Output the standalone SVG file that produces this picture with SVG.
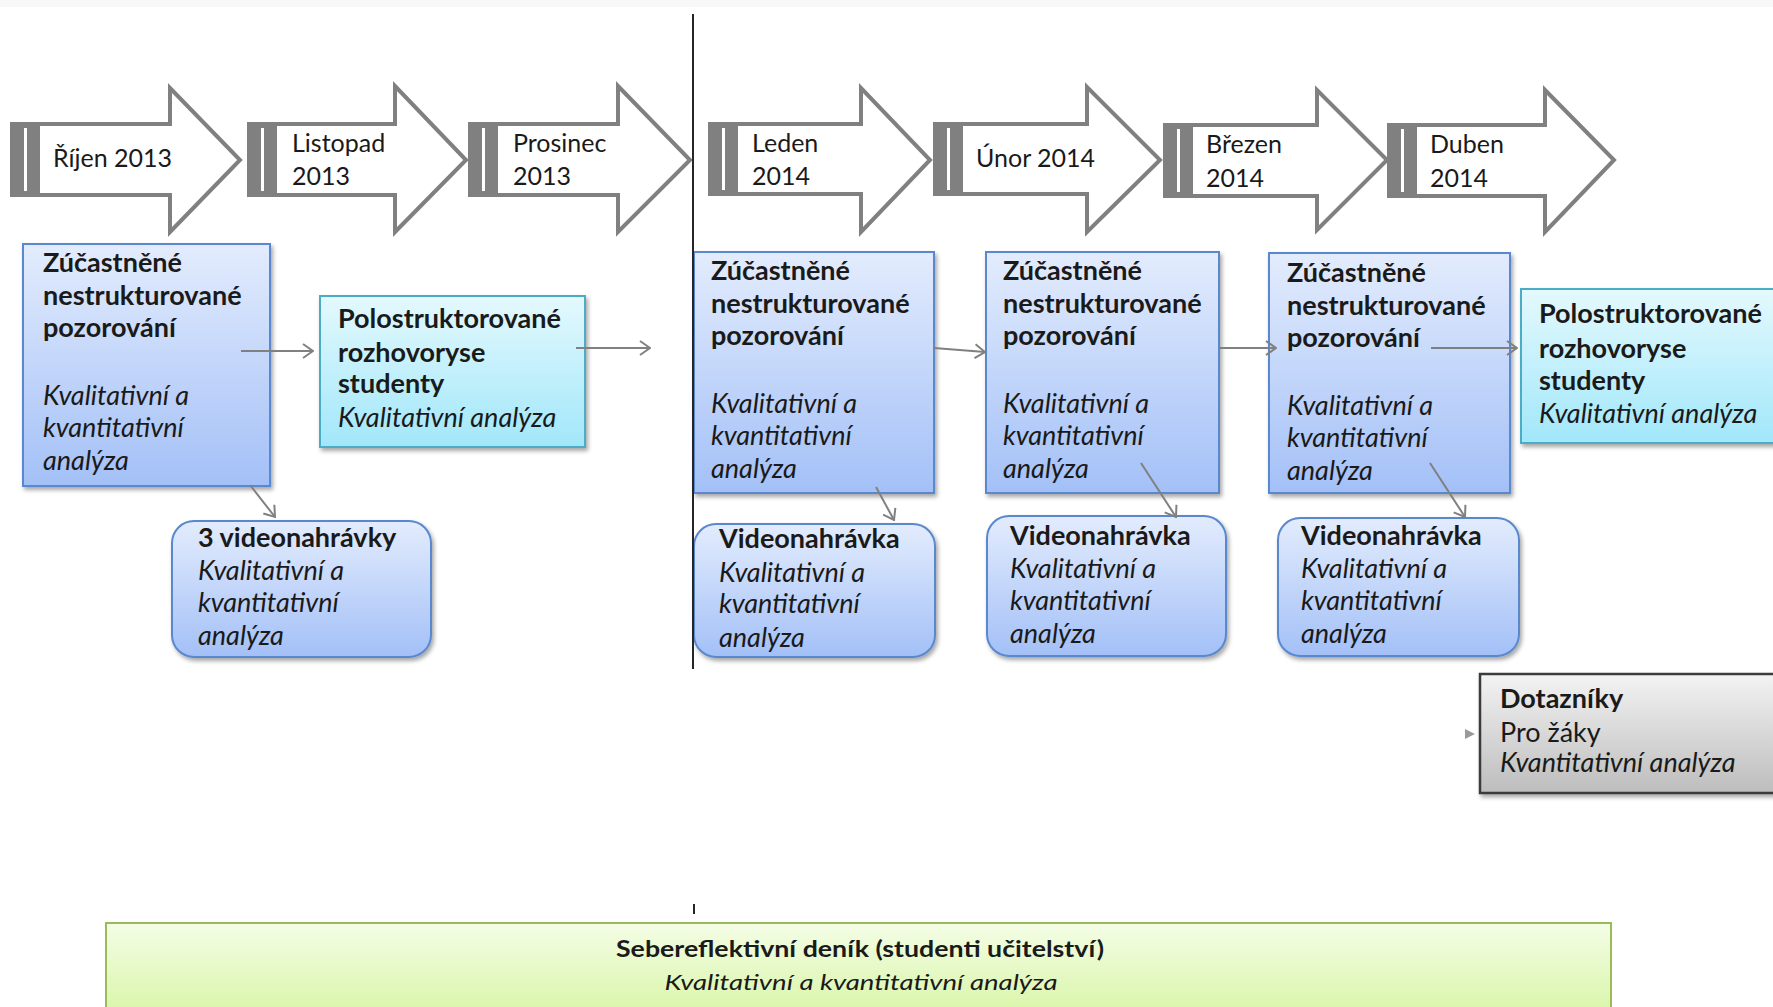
<svg xmlns="http://www.w3.org/2000/svg" width="1773" height="1007" viewBox="0 0 1773 1007">
<defs>
<style>
.t{font-family:Lato,"Open Sans","Liberation Sans",sans-serif;fill:#1a1a1a}
.m{font-size:25px}
.b{font-size:27px;font-weight:bold}
.i{font-size:27px;font-style:italic}
.r{font-size:27px}
.blk{fill:#808080}
.body{fill:#ffffff;stroke:#808080;stroke-width:4;stroke-linejoin:miter}
.stripe{fill:#ffffff}
.blue{fill:url(#gBlue);stroke:#5a88cf;stroke-width:2;filter:url(#sh)}
.cyan{fill:url(#gCyan);stroke:#4bacc6;stroke-width:2;filter:url(#sh)}
.gray{fill:url(#gGray);stroke:#3a3a3a;stroke-width:2.5;filter:url(#sh)}
.green{fill:url(#gGreen);stroke:#9bbb59;stroke-width:2}
.con{stroke:#808080;stroke-width:2;fill:none;marker-end:url(#ah)}
</style>
<linearGradient id="gBlue" x1="0" y1="0" x2="0" y2="1"><stop offset="0" stop-color="#e3ecfd"/><stop offset="1" stop-color="#a3c0f7"/></linearGradient>
<linearGradient id="gCyan" x1="0" y1="0" x2="0" y2="1"><stop offset="0" stop-color="#e4f9fd"/><stop offset="1" stop-color="#a1e7fa"/></linearGradient>
<linearGradient id="gGray" x1="0" y1="0" x2="0" y2="1"><stop offset="0" stop-color="#f3f3f3"/><stop offset="1" stop-color="#bdbdbd"/></linearGradient>
<linearGradient id="gGreen" x1="0" y1="0" x2="0" y2="1"><stop offset="0" stop-color="#f4fde6"/><stop offset="1" stop-color="#d6f5a2"/></linearGradient>
<filter id="sh" x="-10%" y="-10%" width="130%" height="130%"><feDropShadow dx="2" dy="3" stdDeviation="2" flood-color="#000" flood-opacity="0.35"/></filter>
<marker id="ah" viewBox="0 0 12 16" refX="11" refY="8" markerWidth="12" markerHeight="16" markerUnits="userSpaceOnUse" orient="auto"><path d="M1,1 L11,8 L1,15" fill="none" stroke="#808080" stroke-width="2"/></marker>
</defs>
<rect x="0" y="0" width="1773" height="1007" fill="#ffffff"/>
<rect x="0" y="0" width="1773" height="7" fill="#f8f8f8"/>

<g id="month-rijen">
<rect class="blk" x="10" y="122" width="30" height="75"/><rect class="stripe" x="24" y="128" width="3" height="63"/>
<polygon class="body" points="38,124 170,124 170,88 240,160 170,232 170,195 38,195"/>
<text class="t m" x="53" y="167">Říjen 2013</text>
</g>
<g id="month-listopad">
<rect class="blk" x="247" y="122" width="30" height="75"/><rect class="stripe" x="261" y="128" width="3" height="63"/>
<polygon class="body" points="275,124 395,124 395,86 466,160 395,232 395,195 275,195"/>
<text class="t m" x="292" y="152">Listopad</text><text class="t m" x="292" y="185">2013</text>
</g>
<g id="month-prosinec">
<rect class="blk" x="468" y="122" width="30" height="75"/><rect class="stripe" x="482" y="128" width="3" height="63"/>
<polygon class="body" points="496,124 618,124 618,86 690,160 618,232 618,195 496,195"/>
<text class="t m" x="513" y="152">Prosinec</text><text class="t m" x="513" y="185">2013</text>
</g>
<g id="month-leden">
<rect class="blk" x="708" y="122" width="30" height="74"/><rect class="stripe" x="722" y="128" width="3" height="62"/>
<polygon class="body" points="736,124 861,124 861,88 930,160 861,232 861,194 736,194"/>
<text class="t m" x="752" y="152">Leden</text><text class="t m" x="752" y="185">2014</text>
</g>
<g id="month-unor">
<rect class="blk" x="933" y="122" width="30" height="74"/><rect class="stripe" x="947" y="128" width="3" height="62"/>
<polygon class="body" points="961,124 1087,124 1087,87 1160,160 1087,232 1087,194 961,194"/>
<text class="t m" x="976" y="167">Únor 2014</text>
</g>
<g id="month-brezen">
<rect class="blk" x="1163" y="123" width="30" height="75"/><rect class="stripe" x="1177" y="129" width="3" height="63"/>
<polygon class="body" points="1191,125 1317,125 1317,90 1387,160 1317,230 1317,196 1191,196"/>
<text class="t m" x="1206" y="153">Březen</text><text class="t m" x="1206" y="187">2014</text>
</g>
<g id="month-duben">
<rect class="blk" x="1387" y="123" width="30" height="75"/><rect class="stripe" x="1401" y="129" width="3" height="63"/>
<polygon class="body" points="1415,125 1545,125 1545,90 1614,160 1545,232 1545,196 1415,196"/>
<text class="t m" x="1430" y="153">Duben</text><text class="t m" x="1430" y="187">2014</text>
</g>

<g id="obs-rijen">
<rect class="blue" x="23" y="244" width="247" height="242"/>
<text class="t b" x="43" y="272">Zúčastněné</text><text class="t b" x="43" y="305">nestrukturované</text><text class="t b" x="43" y="337">pozorování</text>
<text class="t i" x="43" y="405">Kvalitativní a</text><text class="t i" x="43" y="437">kvantitativní</text><text class="t i" x="43" y="470">analýza</text>
</g>
<g id="interview-1">
<rect class="cyan" x="320" y="296" width="265" height="151"/>
<text class="t b" x="338" y="328">Polostruktorované</text><text class="t b" x="338" y="362">rozhovoryse</text><text class="t b" x="338" y="393">studenty</text>
<text class="t i" x="338" y="427">Kvalitativní analýza</text>
</g>
<g id="video-rijen">
<rect class="blue" x="172" y="521" width="259" height="136" rx="22"/>
<text class="t b" x="198" y="547">3 videonahrávky</text>
<text class="t i" x="198" y="580">Kvalitativní a</text><text class="t i" x="198" y="612">kvantitativní</text><text class="t i" x="198" y="645">analýza</text>
</g>
<g id="obs-leden">
<rect class="blue" x="694" y="252" width="240" height="241"/>
<text class="t b" x="711" y="280">Zúčastněné</text><text class="t b" x="711" y="313">nestrukturované</text><text class="t b" x="711" y="345">pozorování</text>
<text class="t i" x="711" y="413">Kvalitativní a</text><text class="t i" x="711" y="445">kvantitativní</text><text class="t i" x="711" y="478">analýza</text>
</g>
<g id="video-leden">
<rect class="blue" x="694" y="524" width="241" height="133" rx="22"/>
<text class="t b" x="719" y="548">Videonahrávka</text>
<text class="t i" x="719" y="582">Kvalitativní a</text><text class="t i" x="719" y="613">kvantitativní</text><text class="t i" x="719" y="647">analýza</text>
</g>
<g id="obs-unor">
<rect class="blue" x="986" y="252" width="233" height="241"/>
<text class="t b" x="1003" y="280">Zúčastněné</text><text class="t b" x="1003" y="313">nestrukturované</text><text class="t b" x="1003" y="345">pozorování</text>
<text class="t i" x="1003" y="413">Kvalitativní a</text><text class="t i" x="1003" y="445">kvantitativní</text><text class="t i" x="1003" y="478">analýza</text>
</g>
<g id="video-unor">
<rect class="blue" x="987" y="516" width="239" height="140" rx="22"/>
<text class="t b" x="1010" y="545">Videonahrávka</text>
<text class="t i" x="1010" y="578">Kvalitativní a</text><text class="t i" x="1010" y="610">kvantitativní</text><text class="t i" x="1010" y="643">analýza</text>
</g>
<g id="obs-brezen">
<rect class="blue" x="1269" y="253" width="241" height="240"/>
<text class="t b" x="1287" y="282">Zúčastněné</text><text class="t b" x="1287" y="315">nestrukturované</text><text class="t b" x="1287" y="347">pozorování</text>
<text class="t i" x="1287" y="415">Kvalitativní a</text><text class="t i" x="1287" y="447">kvantitativní</text><text class="t i" x="1287" y="480">analýza</text>
</g>
<g id="video-brezen">
<rect class="blue" x="1278" y="518" width="241" height="138" rx="22"/>
<text class="t b" x="1301" y="545">Videonahrávka</text>
<text class="t i" x="1301" y="578">Kvalitativní a</text><text class="t i" x="1301" y="610">kvantitativní</text><text class="t i" x="1301" y="643">analýza</text>
</g>
<g id="interview-2">
<rect class="cyan" x="1521" y="289" width="270" height="154"/>
<text class="t b" x="1539" y="323">Polostruktorované</text><text class="t b" x="1539" y="358">rozhovoryse</text><text class="t b" x="1539" y="390">studenty</text>
<text class="t i" x="1539" y="423">Kvalitativní analýza</text>
</g>
<g id="questionnaire">
<rect class="gray" x="1480" y="674" width="310" height="119"/>
<polygon points="1465,729 1475,734 1465,739" fill="#9a9a9a"/>
<text class="t b" x="1500" y="708">Dotazníky</text>
<text class="t r" x="1500" y="742">Pro žáky</text>
<text class="t i" x="1500" y="772">Kvantitativní analýza</text>
</g>
<g id="diary">
<rect class="green" x="106" y="923" width="1505" height="100"/>
<text class="t" x="860" y="957" text-anchor="middle" font-size="22" font-weight="bold" textLength="488" lengthAdjust="spacingAndGlyphs">Sebereflektivní deník (studenti učitelství)</text>
<text class="t" x="861" y="990" text-anchor="middle" font-size="22" font-style="italic" textLength="393" lengthAdjust="spacingAndGlyphs">Kvalitativní a kvantitativní analýza</text>
</g>

<g id="divider">
<line x1="693" y1="14" x2="693" y2="669" stroke="#262626" stroke-width="2"/>
<line x1="694" y1="904" x2="694" y2="914" stroke="#262626" stroke-width="2"/>
</g>

<g id="connectors">
<line class="con" x1="241" y1="351" x2="313" y2="351"/>
<line class="con" x1="576" y1="348" x2="650" y2="348"/>
<line class="con" x1="250" y1="485" x2="275" y2="517"/>
<line class="con" x1="934" y1="348" x2="985" y2="352"/>
<line class="con" x1="876" y1="487" x2="894" y2="520"/>
<line class="con" x1="1219" y1="348" x2="1276" y2="348"/>
<line class="con" x1="1141" y1="463" x2="1176" y2="517"/>
<line class="con" x1="1431" y1="348" x2="1517" y2="348"/>
<line class="con" x1="1430" y1="463" x2="1465" y2="517"/>
</g>
</svg>
